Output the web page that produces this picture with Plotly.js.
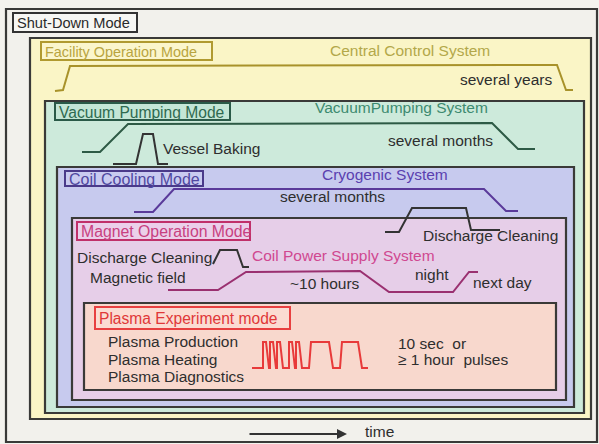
<!DOCTYPE html>
<html><head><meta charset="utf-8">
<script src="https://cdn.plot.ly/plotly-3.0.1.min.js"></script>
<style>html,body{margin:0;padding:0;background:#f4f3ee;}#chart{width:599px;height:444px;}</style>
</head><body><div id="chart"></div>
<script>
// ---- nested operation regions ----
const regionNames = ['Shut-Down','Facility','Vacuum','Coil','Magnet','Plasma'];
const regionX0 = [6, 30, 45, 57, 72, 84];
const regionX1 = [597, 591, 584, 574, 566, 556];
const regionY0 = [9, 38, 101, 167, 218, 303];
const regionY1 = [442, 419, 413, 407, 400, 390];
const regionFill = ['#f2f1ec', '#faf5c6', '#cdeadb', '#c7caee', '#e6cee8', '#f8d8cd'];

// ---- mode labels ----
const modeLabels = ['Shut-Down Mode','Facility Operation Mode','Vacuum Pumping Mode','Coil Cooling Mode','Magnet Operation Mode','Plasma Experiment mode'];
const modeX0 = [13, 41, 55, 65, 77, 95];
const modeX1 = [137, 212, 230, 203, 250, 290];
const modeY0 = [13, 42, 103, 171, 222, 307];
const modeY1 = [32, 60, 120, 186, 240, 329];
const modeBorder = ['#333333', '#b09a30', '#2a5a48', '#4a3a8a', '#c0306a', '#e84040'];
const modeText = ['#2a2a2a', '#b8a440', '#2f6a50', '#5048a0', '#c84080', '#e03838'];
const modeFill = ['#f7f7f4', '#fbf6cc', '#c4e6d6', '#c9cbf0', '#ebd0ea', '#fbdcd2'];
const modeSize = [14.6, 14.4, 15.6, 16, 15.8, 15.6];

// ---- time-course curves ----
const facilityX = [55, 63, 70, 557, 566, 573];
const facilityY = [91, 90, 66, 65, 90, 90];
const vacuumX = [82, 100, 128, 492, 518, 535];
const vacuumY = [152, 152, 124, 123, 149, 149];
const bakingX = [113, 136, 143, 153, 158, 168];
const bakingY = [164, 164, 134, 134, 164, 164];
const cryoX = [134, 153, 174, 484, 506, 518];
const cryoY = [212, 212, 189, 189, 211, 211];
const dcRightX = [385, 399, 412, 466, 471, 500];
const dcRightY = [232, 232, 208, 208, 230, 230];
const dcLeftX = [213, 220, 237, 243, 249];
const dcLeftY = [264, 250, 250, 267, 267];
const magnetX = [168, 218, 246, 360, 389, 453, 469, 478];
const magnetY = [290, 290, 272, 271, 292, 292, 272, 272];
const pulseX = [252, 263,263,266,269, 270,270,273,276, 277,277,280,283, 289,289,292,295, 296,296,299,302, 309,311,329,333, 340,342,358,362, 368];
const pulseY = [368, 368,342,342,368, 368,342,342,368, 368,342,342,368, 368,342,342,368, 368,342,342,368, 368,342,342,368, 368,342,342,368, 368];

// ---- free texts ----
const noteText = ['Central Control System','several years','VacuumPumping System','Vessel Baking','several months','Cryogenic System','several months','Discharge Cleaning','Coil Power Supply System','Discharge Cleaning','Magnetic field','~10 hours','night','next day','Plasma Production','Plasma Heating','Plasma Diagnostics','10 sec  or','≥ 1 hour  pulses','time'];
const noteX = [330, 460, 315, 163, 388, 322, 280, 423, 252, 77, 90, 290, 415, 473, 108, 108, 108, 398, 398, 365];
const noteY = [50, 79, 107, 148, 140, 174, 196, 235, 255, 257, 277, 283, 274, 282, 341, 359, 376, 343, 359, 431];
const noteColor = ['#b3a84a','#2e2e2e','#3d8a70','#2e2e2e','#2e2e2e','#5a40b0','#2e2e2e','#2e2e2e','#d04890','#2e2e2e','#2e2e2e','#2e2e2e','#2e2e2e','#2e2e2e','#2e2e2e','#2e2e2e','#2e2e2e','#2e2e2e','#2e2e2e','#2e2e2e'];

const FONT = 'Liberation Sans, Arial, sans-serif';
const shapes = [];
for (let i = 0; i < regionNames.length; i++) {
  shapes.push({type:'rect', xref:'x', yref:'y', x0:regionX0[i], x1:regionX1[i], y0:regionY0[i], y1:regionY1[i],
    fillcolor:regionFill[i], line:{color:'#3a3a38', width:2.2}, layer:'below'});
}
for (let i = 0; i < modeLabels.length; i++) {
  shapes.push({type:'rect', xref:'x', yref:'y', x0:modeX0[i], x1:modeX1[i], y0:modeY0[i], y1:modeY1[i],
    fillcolor:modeFill[i], line:{color:modeBorder[i], width:2}, layer:'below'});
}
const annotations = [];
for (let i = 0; i < modeLabels.length; i++) {
  annotations.push({x:modeX0[i]+1.5, y:(modeY0[i]+modeY1[i])/2+0.5, xref:'x', yref:'y', text:modeLabels[i], showarrow:false,
    xanchor:'left', yanchor:'middle', font:{family:FONT, size:modeSize[i], color:modeText[i]}});
}
for (let i = 0; i < noteText.length; i++) {
  annotations.push({x:noteX[i]-2, y:noteY[i], xref:'x', yref:'y', text:noteText[i], showarrow:false,
    xanchor:'left', yanchor:'middle', font:{family:FONT, size:15.5, color:noteColor[i]}});
}
annotations.push({x:347, y:434, ax:248, ay:434, xref:'x', yref:'y', axref:'x', ayref:'y', text:'', showarrow:true,
  arrowhead:2, arrowsize:1, arrowwidth:2, arrowcolor:'#333'});

function line(x, y, color, w) {
  return {type:'scatter', mode:'lines', x:x, y:y, line:{color:color, width:w||2}, hoverinfo:'skip', showlegend:false};
}
const data = [
  line(facilityX, facilityY, '#a8922a'),
  line(vacuumX, vacuumY, '#2d5a45'),
  line(bakingX, bakingY, '#333'),
  line(cryoX, cryoY, '#5a3a9a'),
  line(dcRightX, dcRightY, '#333'),
  line(dcLeftX, dcLeftY, '#333'),
  line(magnetX, magnetY, '#9a3070'),
  line(pulseX, pulseY, '#e83a3a')
];
const layout = {
  width:599, height:444, margin:{l:0,r:0,t:0,b:0},
  paper_bgcolor:'#f4f3ee', plot_bgcolor:'#f4f3ee',
  xaxis:{range:[0,599], visible:false, fixedrange:true},
  yaxis:{range:[444,0], visible:false, fixedrange:true},
  shapes:shapes, annotations:annotations, showlegend:false
};
Plotly.newPlot('chart', data, layout, {staticPlot:true, displayModeBar:false});
</script></body></html>
